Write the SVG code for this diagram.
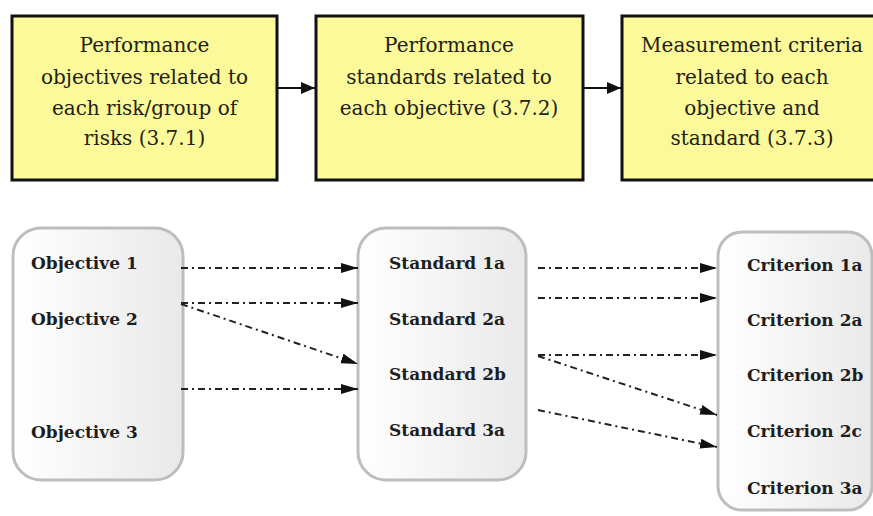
<svg xmlns="http://www.w3.org/2000/svg" width="873" height="516" viewBox="0 0 873 516">
<defs>
<marker id="ah" markerWidth="20" markerHeight="12" refX="17" refY="6" orient="auto" markerUnits="userSpaceOnUse">
<path d="M0,1 L17,6 L0,11 Z" fill="#111"/>
</marker>
<marker id="ah2" markerWidth="16" markerHeight="14" refX="14" refY="7" orient="auto" markerUnits="userSpaceOnUse">
<path d="M0,1 L14,7 L0,13 Z" fill="#111"/>
</marker>
<linearGradient id="g" x1="0" y1="0" x2="1" y2="0">
<stop offset="0" stop-color="#ffffff"/>
<stop offset="1" stop-color="#e9e9e9"/>
</linearGradient>
</defs>
<style>
.yb{fill:#fcf99b;stroke:#111;stroke-width:3}
.rb{fill:url(#g);stroke:#bdbdbd;stroke-width:3}
.tt{font-family:"DejaVu Serif","Liberation Serif",serif;font-size:20px;fill:#222214;text-anchor:middle}
.lb{font-family:"DejaVu Serif","Liberation Serif",serif;font-size:17px;font-weight:bold;fill:#1e1e1e}
.solid{stroke:#111;stroke-width:2;fill:none;marker-end:url(#ah2)}
.dd{stroke:#222;stroke-width:2;fill:none;stroke-dasharray:7 4 2 4;marker-end:url(#ah)}
</style>
<rect width="873" height="516" fill="#fff"/>
<g id="box1">
<rect class="yb" x="12" y="16" width="265" height="164"/>
<text class="tt" x="144.5"><tspan x="144.5" y="52">Performance</tspan><tspan x="144.5" y="84">objectives related to</tspan><tspan x="144.5" y="115">each risk/group of</tspan><tspan x="144.5" y="145">risks (3.7.1)</tspan></text>
</g>
<g id="box2">
<rect class="yb" x="316" y="16" width="267" height="164"/>
<text class="tt" x="449"><tspan x="449" y="52">Performance</tspan><tspan x="449" y="84">standards related to</tspan><tspan x="449" y="115">each objective (3.7.2)</tspan></text>
</g>
<g id="box3">
<rect class="yb" x="622" y="16" width="262" height="164"/>
<text class="tt" x="752"><tspan x="752" y="52">Measurement criteria</tspan><tspan x="752" y="84">related to each</tspan><tspan x="752" y="115">objective and</tspan><tspan x="752" y="145">standard (3.7.3)</tspan></text>
</g>
<g id="objectives">
<rect class="rb" x="13" y="228" width="170" height="252" rx="28"/>
<text class="lb" x="31" y="269">Objective 1</text>
<text class="lb" x="31" y="325">Objective 2</text>
<text class="lb" x="31" y="438">Objective 3</text>
</g>
<g id="standards">
<rect class="rb" x="358" y="228" width="168" height="252" rx="28"/>
<text class="lb" x="389" y="269">Standard 1a</text>
<text class="lb" x="389" y="325">Standard 2a</text>
<text class="lb" x="389" y="380">Standard 2b</text>
<text class="lb" x="389" y="436">Standard 3a</text>
</g>
<g id="criteria">
<rect class="rb" x="718" y="232" width="154" height="278" rx="24"/>
<text class="lb" x="747" y="271">Criterion<tspan dx="6">1a</tspan></text>
<text class="lb" x="747" y="326">Criterion<tspan dx="6">2a</tspan></text>
<text class="lb" x="747" y="381">Criterion<tspan dx="6">2b</tspan></text>
<text class="lb" x="747" y="437">Criterion<tspan dx="6">2c</tspan></text>
<text class="lb" x="747" y="494">Criterion<tspan dx="6">3a</tspan></text>
</g>
<g id="connectors">
<line class="solid" x1="278" y1="88" x2="315" y2="88"/>
<line class="solid" x1="584" y1="88" x2="621" y2="88"/>
<line class="dd" x1="181" y1="268" x2="358" y2="268"/>
<line class="dd" x1="181" y1="303" x2="358" y2="303"/>
<line class="dd" x1="181" y1="304" x2="358" y2="364"/>
<line class="dd" x1="181" y1="389" x2="358" y2="389"/>
<line class="dd" x1="538" y1="268" x2="717" y2="268"/>
<line class="dd" x1="538" y1="298" x2="717" y2="298"/>
<line class="dd" x1="538" y1="355" x2="717" y2="355"/>
<line class="dd" x1="538" y1="356" x2="717" y2="415"/>
<line class="dd" x1="538" y1="410" x2="717" y2="447"/>
</g>
</svg>
